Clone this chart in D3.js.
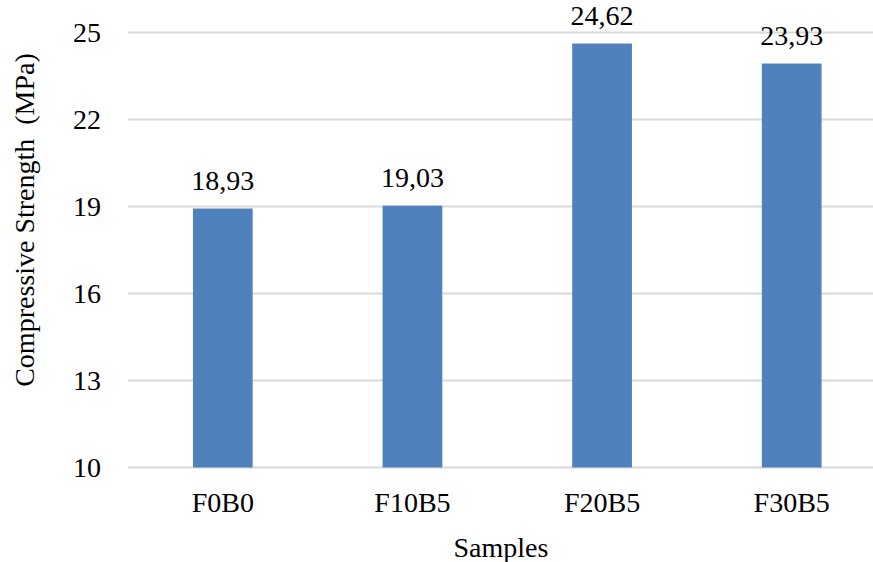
<!DOCTYPE html>
<html><head><meta charset="utf-8">
<script src="https://cdn.jsdelivr.net/npm/d3@7"></script>
<style>
body{margin:0;background:#fff;font-family:"Liberation Serif","Times New Roman",Tinos,serif;}
svg, svg text{font-family:"Liberation Serif","Times New Roman",Tinos,serif !important;}
</style>
</head>
<body>
<svg id="chart" width="873" height="562" font-family="Liberation Serif"></svg>
<script>
const categories = ["F0B0", "F10B5", "F20B5", "F30B5"];
const values = [18.93, 19.03, 24.62, 23.93];
const valueLabels = ["18,93", "19,03", "24,62", "23,93"];
const yTicks = [10, 13, 16, 19, 22, 25];

const FONT = "'Liberation Serif', 'Times New Roman', Tinos, serif";
const svg = d3.select("#chart");
const x = d3.scaleBand().domain(categories).range([128, 886.5]).paddingInner(0.685).paddingOuter(0.3425);
const y = d3.scaleLinear().domain([10, 25]).range([467.5, 32.5]);

// gridlines
svg.append("g").selectAll("line").data(yTicks).join("line")
  .attr("x1", 128).attr("x2", 886.5)
  .attr("y1", d => y(d)).attr("y2", d => y(d))
  .attr("stroke", "#d9d9d9").attr("stroke-width", 2);

// bars
svg.append("g").selectAll("rect").data(values).join("rect")
  .attr("x", (d, i) => x(categories[i]))
  .attr("width", x.bandwidth())
  .attr("y", d => y(d))
  .attr("height", d => y(10) - y(d))
  .attr("fill", "#4f81bd");

// value labels
svg.append("g").selectAll("text").data(values).join("text")
  .attr("x", (d, i) => x(categories[i]) + x.bandwidth() / 2)
  .attr("y", d => y(d) - 19)
  .attr("text-anchor", "middle")
  .attr("font-family", FONT).style("font-size", "28px").style("fill", "#000")
  .text((d, i) => valueLabels[i]);

// y axis labels
const yAxis = d3.axisLeft(y).tickValues(yTicks).tickSize(0).tickPadding(0);
const gy = svg.append("g").attr("transform", "translate(101,0)").call(yAxis);
gy.attr("font-family", FONT).attr("font-size", 28);
gy.select(".domain").remove();
gy.selectAll("text").attr("font-family", FONT).style("font-size", "28px").style("fill", "#000").attr("dy", "0.33em");

// x axis labels
const xAxis = d3.axisBottom(x).tickSize(0).tickPadding(0);
const gx = svg.append("g").attr("transform", "translate(0,512)").call(xAxis);
gx.attr("font-family", FONT).attr("font-size", 28);
gx.select(".domain").remove();
gx.selectAll("text").attr("font-family", FONT).style("font-size", "28px").style("fill", "#000").attr("dy", 0);

// axis titles
svg.append("text").attr("x", 501).attr("y", 557).attr("text-anchor", "middle")
  .attr("font-family", FONT).style("font-size", "28px").style("fill", "#000").text("Samples");
svg.append("text").attr("transform", "translate(34,220) rotate(-90)")
  .attr("text-anchor", "middle")
  .attr("font-family", FONT).style("font-size", "28px").style("fill", "#000").style("white-space", "pre")
  .text("Compressive Strength  (MPa)");
</script>
</body></html>
